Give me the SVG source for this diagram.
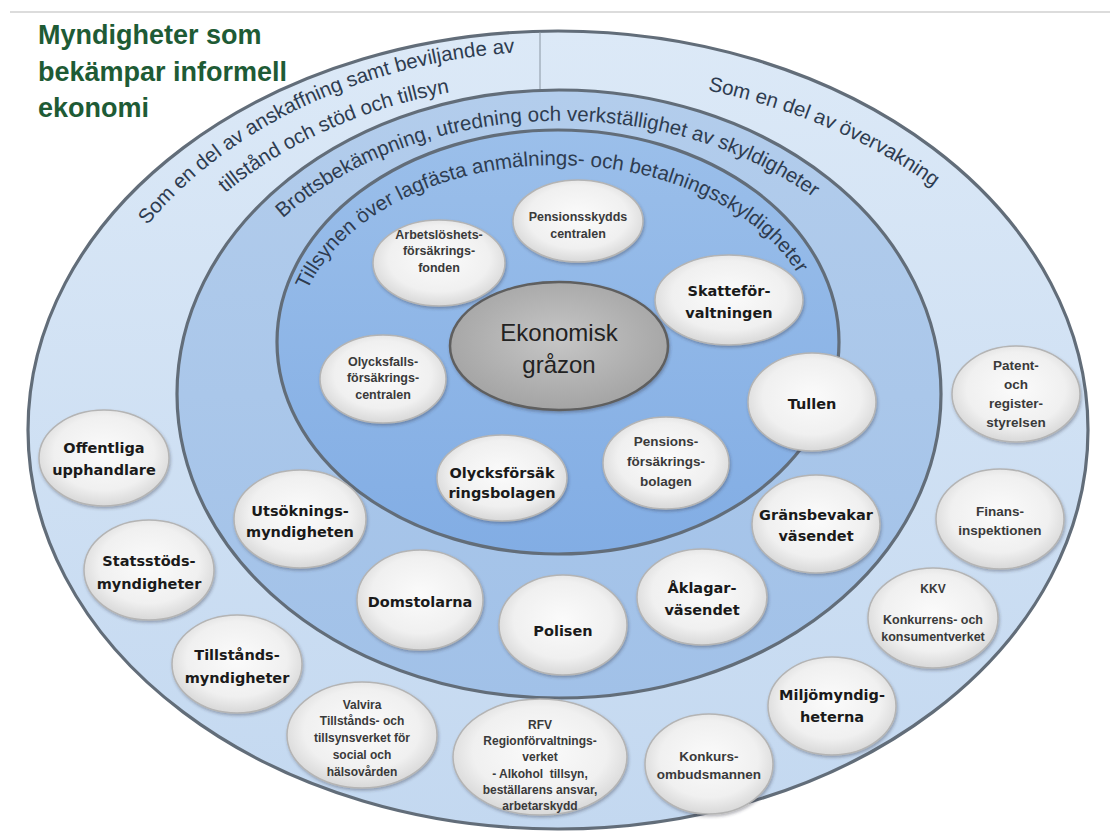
<svg xmlns="http://www.w3.org/2000/svg" xmlns:xlink="http://www.w3.org/1999/xlink" width="1110" height="839" viewBox="0 0 1110 839">
<defs>
<linearGradient id="gOuter" x1="0" y1="0" x2="0" y2="1"><stop offset="0" stop-color="#dce9f7"/><stop offset="1" stop-color="#c3d8f0"/></linearGradient>
<linearGradient id="gRing2" x1="0" y1="0" x2="0" y2="1"><stop offset="0" stop-color="#b3cdec"/><stop offset="1" stop-color="#a1c1e8"/></linearGradient>
<linearGradient id="gRing3" x1="0" y1="0" x2="0" y2="1"><stop offset="0" stop-color="#9bbfea"/><stop offset="1" stop-color="#82ade4"/></linearGradient>
<radialGradient id="gNode" cx="0.5" cy="0.45" r="0.55"><stop offset="0" stop-color="#fbfbfb"/><stop offset="0.7" stop-color="#f0f0f0"/><stop offset="1" stop-color="#d8d8d8"/></radialGradient>
<radialGradient id="gCenter" cx="0.5" cy="0.45" r="0.55"><stop offset="0" stop-color="#c6c6c6"/><stop offset="1" stop-color="#a4a4a4"/></radialGradient>
<filter id="sh" x="-20%" y="-20%" width="140%" height="150%"><feDropShadow dx="1" dy="2" stdDeviation="1.8" flood-color="#334" flood-opacity="0.35"/></filter>
<path id="p1" d="M147.3,225.3 A488,379 0 0 1 968.7,634.7 A488,379 0 0 1 147.3,225.3"/>
<path id="p2" d="M225.4,193.0 A450,352 0 0 1 890.6,667.0 A450,352 0 0 1 225.4,193.0"/>
<path id="p3" d="M707.7,90.3 A515,355 0 0 1 408.3,769.7 A515,355 0 0 1 707.7,90.3"/>
<path id="p4" d="M283.0,218.2 A365,277 0 0 1 847.0,569.8 A365,277 0 0 1 283.0,218.2"/>
<path id="p5" d="M307.5,290.0 A261,177 0 0 1 806.5,394.0 A261,177 0 0 1 307.5,290.0"/>
</defs>
<style>
.ring{stroke:#626d79;stroke-width:3.2}
.rt{font-family:"Liberation Sans",Arial,sans-serif;font-size:20.5px;fill:#2e3c50}
.node{fill:url(#gNode);stroke:#b4b4b4;stroke-width:1.5;filter:url(#sh)}
.lg{font-family:"DejaVu Sans",Verdana,sans-serif;font-weight:bold;font-size:14.5px;fill:#1a1a1a;text-anchor:middle}
.sm{font-family:"Liberation Sans",Arial,sans-serif;font-weight:bold;font-size:12.5px;fill:#3a3a3a;text-anchor:middle}
.md{font-family:"Liberation Sans",Arial,sans-serif;font-weight:bold;font-size:13.5px;fill:#3a3a3a;text-anchor:middle}
.xs{font-family:"Liberation Sans",Arial,sans-serif;font-weight:bold;font-size:12px;fill:#3a3a3a;text-anchor:middle}
.title{font-family:"Liberation Sans",Arial,sans-serif;font-weight:bold;font-size:27px;fill:#1e5b35}
.ctr{font-family:"Liberation Sans",Arial,sans-serif;font-size:24px;fill:#222;text-anchor:middle}
</style>
<rect width="1110" height="839" fill="#ffffff"/>
<line x1="10" y1="12" x2="1110" y2="12" stroke="#dcdcdc" stroke-width="2"/>

<g id="rings">
<ellipse cx="558" cy="430" rx="530" ry="399" fill="url(#gOuter)" class="ring"/>
<line x1="540" y1="32" x2="540" y2="91" stroke="#8a96a2" stroke-width="1"/>
<ellipse cx="559" cy="394" rx="382" ry="304" fill="url(#gRing2)" class="ring"/>
<ellipse cx="558" cy="342" rx="281" ry="212" fill="url(#gRing3)" class="ring"/>
</g>

<g id="ring-labels">
<text class="rt"><textPath xlink:href="#p1" href="#p1">Som en del av anskaffning samt beviljande av</textPath></text>
<text class="rt"><textPath xlink:href="#p2" href="#p2">tillstånd och stöd och tillsyn</textPath></text>
<text class="rt"><textPath xlink:href="#p3" href="#p3">Som en del av övervakning</textPath></text>
<text class="rt"><textPath xlink:href="#p4" href="#p4">Brottsbekämpning, utredning och verkställighet av skyldigheter</textPath></text>
<text class="rt"><textPath xlink:href="#p5" href="#p5">Tillsynen över lagfästa anmälnings- och betalningsskyldigheter</textPath></text>
</g>

<g id="title">
<text class="title" x="38" y="44">Myndigheter som</text>
<text class="title" x="38" y="81">bekämpar informell</text>
<text class="title" x="38" y="117">ekonomi</text>
</g>

<g id="connectors"></g>

<g id="center">
<ellipse cx="559" cy="346" rx="109" ry="64" fill="url(#gCenter)" stroke="#5f5f5f" stroke-width="2.5" filter="url(#sh)"/>
<text class="ctr" x="559" y="341">Ekonomisk</text>
<text class="ctr" x="559" y="373">gråzon</text>
</g>

<g id="n-arbetsloshet"><ellipse class="node" cx="439" cy="263" rx="66" ry="43"/>
<text class="sm" x="439" y="238.5">Arbetslöshets-</text><text class="sm" x="439" y="255">försäkrings-</text><text class="sm" x="439" y="271.5">fonden</text></g>
<g id="n-pensionsskydd"><ellipse class="node" cx="578" cy="221" rx="65" ry="41"/>
<text class="sm" x="578" y="221">Pensionsskydds</text><text class="sm" x="578" y="238">centralen</text></g>
<g id="n-skatte"><ellipse class="node" cx="729" cy="300" rx="74" ry="45"/>
<text class="lg" x="729" y="296">Skatteför-</text><text class="lg" x="729" y="318">valtningen</text></g>
<g id="n-olycksfalls"><ellipse class="node" cx="383" cy="379" rx="63" ry="44"/>
<text class="sm" x="383" y="365.5">Olycksfalls-</text><text class="sm" x="383" y="382">försäkrings-</text><text class="sm" x="383" y="398.5">centralen</text></g>
<g id="n-olycksforsak"><ellipse class="node" cx="502" cy="478" rx="65" ry="43"/>
<text class="lg" x="502" y="478">Olycksförsäk</text><text class="lg" x="502" y="498">ringsbolagen</text></g>
<g id="n-pensionsforsak"><ellipse class="node" cx="666" cy="463" rx="63" ry="46"/>
<text class="md" x="666" y="446">Pensions-</text><text class="md" x="666" y="466">försäkrings-</text><text class="md" x="666" y="486">bolagen</text></g>
<g id="n-tullen"><ellipse class="node" cx="812" cy="402" rx="64" ry="49"/>
<text class="lg" x="812" y="409">Tullen</text></g>
<g id="n-gransbevakar"><ellipse class="node" cx="816" cy="524" rx="64" ry="49"/>
<text class="lg" x="816" y="520">Gränsbevakar</text><text class="lg" x="816" y="541">väsendet</text></g>
<g id="n-aklagar"><ellipse class="node" cx="702" cy="597" rx="65" ry="48"/>
<text class="lg" x="702" y="593">Åklagar-</text><text class="lg" x="702" y="615">väsendet</text></g>
<g id="n-polisen"><ellipse class="node" cx="563" cy="625" rx="64" ry="50"/>
<text class="lg" x="563" y="636">Polisen</text></g>
<g id="n-domstolarna"><ellipse class="node" cx="420" cy="600" rx="63" ry="50"/>
<text class="lg" x="420" y="607">Domstolarna</text></g>
<g id="n-utsokning"><ellipse class="node" cx="300" cy="519" rx="66" ry="49"/>
<text class="lg" x="300" y="516">Utsöknings-</text><text class="lg" x="300" y="537">myndigheten</text></g>
<g id="n-offentliga"><ellipse class="node" cx="104" cy="458" rx="65" ry="48"/>
<text class="lg" x="104" y="453">Offentliga</text><text class="lg" x="104" y="475">upphandlare</text></g>
<g id="n-statsstod"><ellipse class="node" cx="149" cy="570" rx="65" ry="50"/>
<text class="lg" x="149" y="566">Statsstöds-</text><text class="lg" x="149" y="589">myndigheter</text></g>
<g id="n-tillstands"><ellipse class="node" cx="237" cy="664" rx="65" ry="49"/>
<text class="lg" x="237" y="660">Tillstånds-</text><text class="lg" x="237" y="683">myndigheter</text></g>
<g id="n-valvira"><ellipse class="node" cx="362" cy="735" rx="75" ry="53"/>
<text class="xs" x="362" y="709">Valvira</text><text class="xs" x="362" y="725">Tillstånds- och</text><text class="xs" x="362" y="742">tillsynsverket för</text><text class="xs" x="362" y="759">social och</text><text class="xs" x="362" y="776">hälsovården</text></g>
<g id="n-rfv"><ellipse class="node" cx="540" cy="757" rx="87" ry="58"/>
<text class="xs" x="540" y="729">RFV</text><text class="xs" x="540" y="745">Regionförvaltnings-</text><text class="xs" x="540" y="761">verket</text><text class="xs" x="540" y="778" xml:space="preserve">- Alkohol  tillsyn,</text><text class="xs" x="540" y="794">beställarens ansvar,</text><text class="xs" x="540" y="810">arbetarskydd</text></g>
<g id="n-konkurs"><ellipse class="node" cx="709" cy="764" rx="64" ry="50"/>
<text class="md" x="709" y="761">Konkurs-</text><text class="md" x="709" y="779">ombudsmannen</text></g>
<g id="n-miljo"><ellipse class="node" cx="832" cy="706" rx="64" ry="49"/>
<text class="lg" x="832" y="700">Miljömyndig-</text><text class="lg" x="832" y="722">heterna</text></g>
<g id="n-kkv"><ellipse class="node" cx="933" cy="618" rx="65" ry="50"/>
<text class="xs" x="933" y="593">KKV</text><text class="md" x="933" y="624" style="font-size:12.5px">Konkurrens- och</text><text class="md" x="933" y="641" style="font-size:12.5px">konsumentverket</text></g>
<g id="n-finans"><ellipse class="node" cx="1000" cy="519" rx="64" ry="50"/>
<text class="md" x="1000" y="516">Finans-</text><text class="md" x="1000" y="535">inspektionen</text></g>
<g id="n-patent"><ellipse class="node" cx="1016" cy="394" rx="64" ry="48"/>
<text class="md" x="1016" y="370">Patent-</text><text class="md" x="1016" y="389">och</text><text class="md" x="1016" y="408">register-</text><text class="md" x="1016" y="427">styrelsen</text></g>
</svg>
